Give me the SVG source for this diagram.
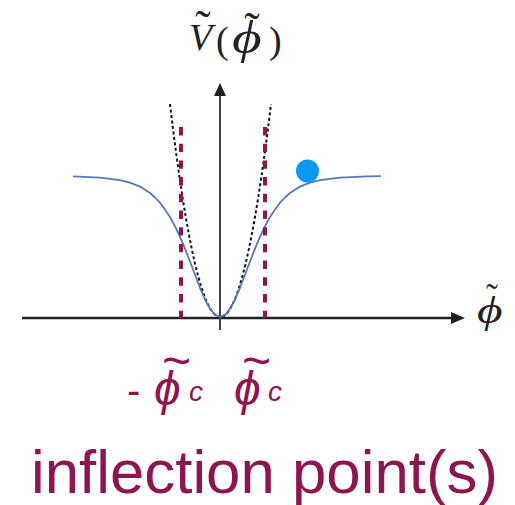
<svg xmlns="http://www.w3.org/2000/svg" width="515" height="505" viewBox="0 0 515 505">
<style>
.axis{stroke:#222;fill:none}
.head{fill:#222}
.crit{stroke:#8E1650;stroke-width:4;stroke-dasharray:8.4 8.3;fill:none}
.serif{font-family:"Liberation Serif","DejaVu Serif",serif;fill:#222}
.red{font-family:"Liberation Sans","DejaVu Sans",sans-serif;fill:#8E1650}
</style>
<rect width="515" height="505" fill="#fff"/>
<g id="axes">
<line class="axis" x1="22" y1="318" x2="452" y2="318" stroke-width="2.6"/>
<polygon class="head" points="465,318 451,312 451,324"/>
<line class="axis" x1="220" y1="330" x2="220" y2="94" stroke-width="2" style="stroke:#444"/>
<polygon class="head" points="220,83 214,96 226,96"/>
</g>
<g id="curves">
<path d="M170,104 Q220,530 271,104" fill="none" stroke="#111" stroke-width="2" stroke-dasharray="3 2.5"/>
<path d="M73,176.4 L100,177.6 L120,180.1 L130,182.6 L140,186.6 L150,193 L155,197.5 L160,202.7 L165,209.5 L170,217 L175,226.2 L180,236.8 L185,248.6 L190,261.5 L195,274.8 L200,287.8 L205,299.5 L210,308.8 L215,314.9 L220,317 L225,314.9 L230,308.8 L235,299.5 L240,287.8 L245,274.8 L250,261.5 L255,248.6 L260,236.8 L265,226.2 L270,217 L275,209.5 L280,202.7 L285,197.5 L290,193 L300,186.6 L310,182.6 L320,180.1 L340,177.6 L367,176.4 L381,176.2" fill="none" stroke="#5479BA" stroke-width="1.8" stroke-linejoin="round"/>
<line class="crit" x1="181" y1="127" x2="181" y2="318"/>
<line class="crit" x1="265" y1="127" x2="265" y2="318"/>
</g>
<g id="ball">
<circle cx="307.5" cy="171" r="11.5" fill="#0A97F2"/>
</g>
<g id="label-V">
<text class="serif" font-size="38"><tspan x="189" y="50" font-style="italic">V</tspan><tspan x="216" y="53">(</tspan><tspan x="269" y="53">)</tspan></text>
<text class="serif" font-size="46" font-style="italic" transform="translate(232,53) scale(1.25,1)">ϕ</text>
<text class="serif" font-size="46" text-anchor="middle"><tspan x="203" y="42">˜</tspan><tspan x="252" y="44">˜</tspan></text>
</g>
<g id="label-phi">
<text class="serif" font-size="38" font-style="italic" transform="translate(477,323) scale(1.3,1)">ϕ</text>
<text class="serif" font-size="36" text-anchor="middle" x="492" y="309">˜</text>
</g>
<g id="label-crit">
<text class="red" font-size="48"><tspan x="127" y="404" font-size="40">-</tspan><tspan x="154" y="405" font-style="italic">ϕ</tspan><tspan x="189" y="401" font-size="28" font-style="italic">c</tspan><tspan x="162" y="378" font-size="50">~</tspan></text>
<text class="red" font-size="48"><tspan x="234" y="405" font-style="italic">ϕ</tspan><tspan x="268" y="401" font-size="28" font-style="italic">c</tspan><tspan x="242" y="378" font-size="50">~</tspan></text>
</g>
<g id="title">
<text class="red" x="31" y="493" font-size="62" textLength="467" lengthAdjust="spacingAndGlyphs">inflection point(s)</text>
</g>
</svg>
